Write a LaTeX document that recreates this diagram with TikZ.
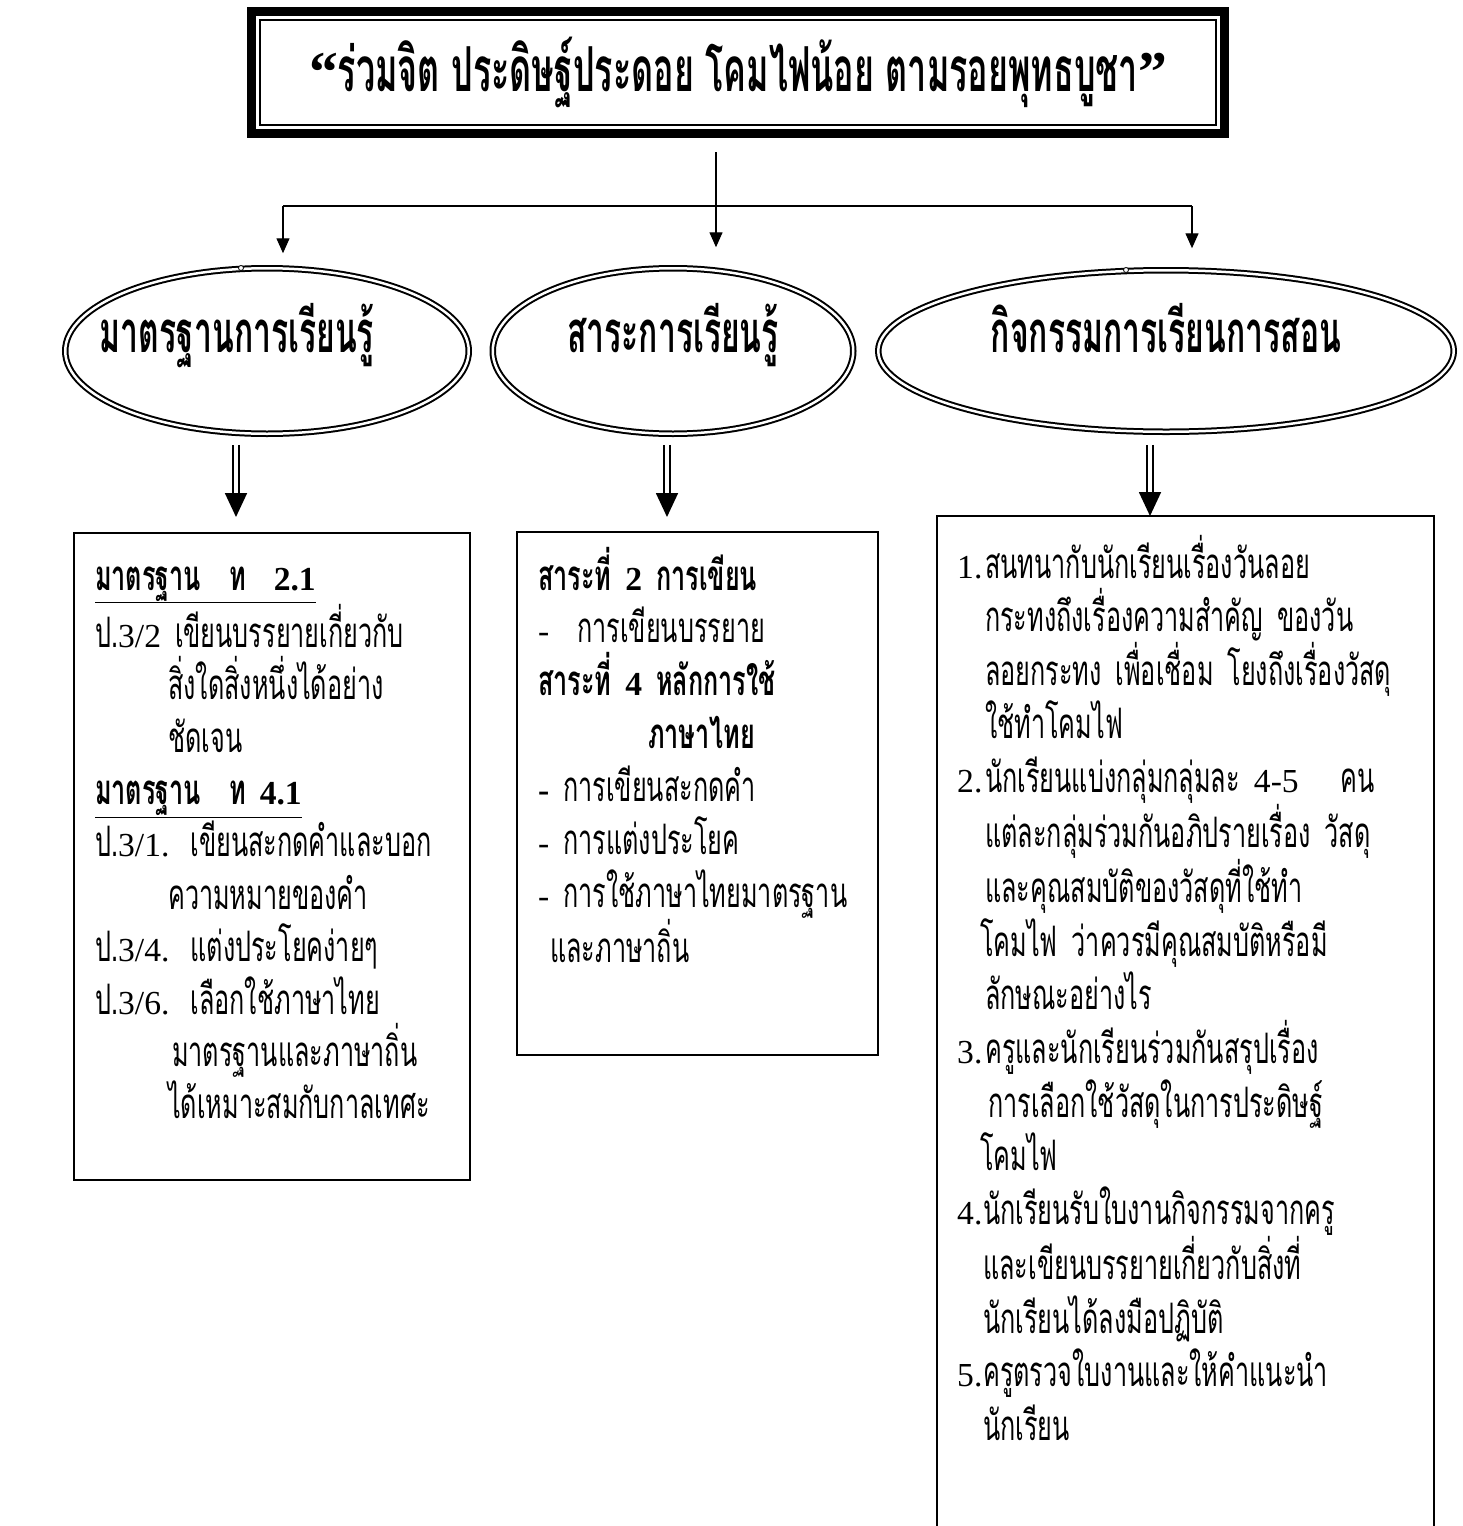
\documentclass[tikz,border=0pt]{standalone}
\usepackage{fontspec}
\usetikzlibrary{arrows.meta,shapes.geometric}
\newfontfamily\thaifont[Script=Thai,FakeStretch=0.6]{Loma}
\newfontfamily\headfont[Script=Thai,FakeStretch=0.55]{Loma}
\newfontfamily\latfont[Scale=0.8]{Liberation Serif}
\newcommand{\lat}[1]{{\latfont #1}}

\begin{document}
\begin{tikzpicture}[
    x=1pt, y=-1pt,
    body/.style={inner sep=0pt, anchor=base west, align=left, text width=480pt, font=\thaifont\fontsize{42}{52.4}\selectfont},
    oval/.style={ellipse, draw, double, line width=2pt, double distance=2.5pt, inner sep=0pt, outer sep=0pt, minimum height=165.5pt, text height=27pt, text depth=25pt, font=\headfont\bfseries\fontsize{58}{60}\selectfont},
    panel/.style={rectangle, draw, line width=1.6pt, inner sep=0pt, outer sep=0pt},
    arr/.style={-{Triangle[length=15pt,width=13pt]}, line width=1.4pt},
    dblarr/.style={double, line width=1.8pt, double distance=4pt, -{Triangle[length=24pt,width=22pt]}}
]
\clip (0,0) rectangle (1462,1526);

% Title
\node[draw, line width=9pt, minimum width=973pt, minimum height=122pt] (frame) at (738,72.5) {};
\node[draw, line width=1.5pt, minimum width=956pt, minimum height=105pt, font=\headfont\bfseries\fontsize{62}{66}\selectfont] (title) at (738,72.5) {{\latfont\fontsize{72}{72}\selectfont “}ร่วมจิต ประดิษฐ์ประดอย โคมไฟน้อย ตามรอยพุทธบูชา{\latfont\fontsize{72}{72}\selectfont ”}};

% Ovals
\node[oval, minimum width=403.5pt] (std) at (267,351) {\makebox[0pt]{\kern-60pt มาตรฐานการเรียนรู้}};
\node[oval, minimum width=360.5pt] (cont) at (673,351) {สาระการเรียนรู้};
\node[oval, minimum width=575.5pt, minimum height=161.5pt] (act) at (1166,351) {กิจกรรมการเรียนการสอน};
\foreach \p in {(241,268),(1126,270)}
  \draw[fill=white, line width=0.8pt] \p circle (2.5pt);

% Arrows from title
\coordinate (split) at (716,206);
\coordinate (lsplit) at (283,206);
\coordinate (rsplit) at (1192,206);
\draw[line width=1.4pt] (lsplit) -- (rsplit);
\draw[arr, shorten <=14pt, shorten >=21pt] (frame.south -| split) -- (split |- cont.north);
\draw[arr, shorten >=15pt] (lsplit) -- (lsplit |- std.north);
\draw[arr, shorten >=22pt] (rsplit) -- (rsplit |- act.north);

% Boxes
\node[panel, anchor=north west, minimum width=396pt, minimum height=647pt] (stdbox) at (74,533) {};
\node[panel, anchor=north west, minimum width=361pt, minimum height=523pt] (contbox) at (517,532) {};
\node[panel, anchor=north west, minimum width=497pt, minimum height=1100pt] (actbox) at (937,516) {};

% Double arrows
\draw[dblarr, shorten <=11pt, shorten >=16pt] ([xshift=-31pt]std.south) -- ([xshift=-31pt]std.south |- stdbox.north);
\draw[dblarr, shorten <=11pt, shorten >=15pt] ([xshift=-6pt]cont.south) -- ([xshift=-6pt]cont.south |- contbox.north);
\draw[dblarr, shorten <=13pt] ([xshift=-16pt]act.south) -- ([xshift=-16pt]act.south |- actbox.north);

% Box texts
\node[body] (stdtext) at (95,590) {%
\textbf{\underline{มาตรฐาน\ \ ท\ \ \lat{2.1}}}\\
ป.\lat{3/2} เขียนบรรยายเกี่ยวกับ\\
\hspace*{73pt}สิ่งใดสิ่งหนึ่งได้อย่าง\\
\hspace*{73pt}ชัดเจน\\
\textbf{\underline{มาตรฐาน\ \ ท \lat{4.1}}}\\
ป.\lat{3/1.} เขียนสะกดคำและบอก\\
\hspace*{73pt}ความหมายของคำ\\
ป.\lat{3/4.} แต่งประโยคง่ายๆ\\
ป.\lat{3/6.} เลือกใช้ภาษาไทย\\
\hspace*{77pt}มาตรฐานและภาษาถิ่น\\
\hspace*{73pt}ได้เหมาะสมกับกาลเทศะ};

\node[body, font=\thaifont\fontsize{42}{52.9}\selectfont] (conttext) at (538,590) {%
\textbf{สาระที่ \lat{2} การเขียน}\\
\lat{-}\ \ การเขียนบรรยาย\\
\textbf{สาระที่ \lat{4} หลักการใช้}\\
\hspace*{110pt}\textbf{ภาษาไทย}\\
\textbf{\lat{-}} การเขียนสะกดคำ\\
\lat{-} การแต่งประโยค\\
\lat{-} การใช้ภาษาไทยมาตรฐาน\\
\hspace*{12pt}และภาษาถิ่น};

\node[body, font=\thaifont\fontsize{42}{53.6}\selectfont] (acttext) at (957,578) {%
\makebox[28pt][l]{\lat{1.}}สนทนากับนักเรียนเรื่องวันลอย\\
\hspace*{28pt}กระทงถึงเรื่องความสำคัญ ของวัน\\
\hspace*{28pt}ลอยกระทง เพื่อเชื่อม โยงถึงเรื่องวัสดุ\\
\hspace*{28pt}ใช้ทำโคมไฟ\\
\makebox[28pt][l]{\lat{2.}}นักเรียนแบ่งกลุ่มกลุ่มละ \lat{4-5}\ \ \ คน\\
\hspace*{28pt}แต่ละกลุ่มร่วมกันอภิปรายเรื่อง วัสดุ\\
\hspace*{28pt}และคุณสมบัติของวัสดุที่ใช้ทำ\\
\hspace*{23pt}โคมไฟ ว่าควรมีคุณสมบัติหรือมี\\
\hspace*{28pt}ลักษณะอย่างไร\\
\makebox[28pt][l]{\lat{3.}}ครูและนักเรียนร่วมกันสรุปเรื่อง\\
\hspace*{31pt}การเลือกใช้วัสดุในการประดิษฐ์\\
\hspace*{23pt}โคมไฟ\\
\makebox[26pt][l]{\lat{4.}}นักเรียนรับใบงานกิจกรรมจากครู\\
\hspace*{26pt}และเขียนบรรยายเกี่ยวกับสิ่งที่\\
\hspace*{26pt}นักเรียนได้ลงมือปฏิบัติ\\
\makebox[26pt][l]{\lat{5.}}ครูตรวจใบงานและให้คำแนะนำ\\
\hspace*{26pt}นักเรียน};

\end{tikzpicture}
\end{document}
